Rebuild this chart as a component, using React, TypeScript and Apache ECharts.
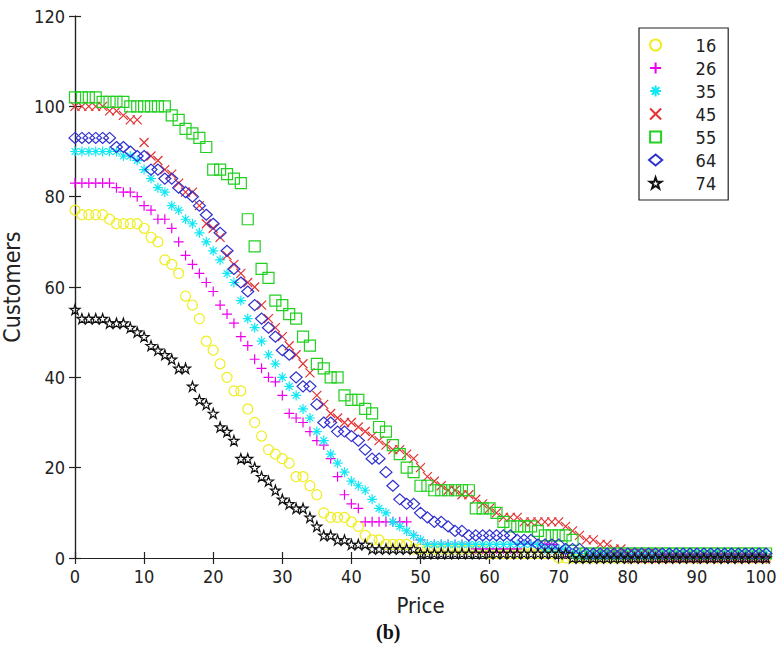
import React, { useEffect, useRef } from "react";
import * as echarts from "echarts";

// Price (x values)
const prices = [
  0, 1, 2, 3, 4, 5, 6, 7, 8, 9, 10, 11, 12, 13, 14, 15, 16, 17, 18, 19, 20,
  21, 22, 23, 24, 25, 26, 27, 28, 29, 30, 31, 32, 33, 34, 35, 36, 37, 38, 39, 40,
  41, 42, 43, 44, 45, 46, 47, 48, 49, 50, 51, 52, 53, 54, 55, 56, 57, 58, 59, 60,
  61, 62, 63, 64, 65, 66, 67, 68, 69, 70, 71, 72, 73, 74, 75, 76, 77, 78, 79, 80,
  81, 82, 83, 84, 85, 86, 87, 88, 89, 90, 91, 92, 93, 94, 95, 96, 97, 98, 99, 100,
];

const ages = ["16", "26", "35", "45", "55", "64", "74"];

const cust16 = [
  77, 76, 76, 76, 76, 75, 74, 74, 74, 74,
  73, 71, 70, 66, 65, 63, 58, 56, 53, 48,
  46, 43, 40, 37, 37, 33, 30, 27, 24, 23,
  22, 21, 18, 18, 16, 14, 10, 9, 9, 9,
  8, 7, 5, 4, 4, 3, 3, 3, 3, 2,
  2, 2, 2, 2, 2, 2, 2, 2, 2, 2,
  1, 1, 1, 1, 1, 1, 1, 1, 1, 1,
  0, 0, 0, 0, 0, 0, 0, 0, 0, 0,
  0, 0, 0, 0, 0, 0, 0, 0, 0, 0,
  0, 0, 0, 0, 0, 0, 0, 0, 0, 0,
  0,
];

const cust26 = [
  83, 83, 83, 83, 83, 83, 82, 81, 81, 80,
  78, 77, 75, 75, 73, 70, 67, 65, 63, 61,
  59, 56, 54, 52, 49, 47, 44, 42, 40, 39,
  36, 32, 31, 30, 28, 26, 25, 22, 18, 14,
  12, 11, 8, 8, 8, 8, 8, 8, 8, 5,
  4, 3, 3, 3, 3, 3, 3, 3, 2, 2,
  2, 2, 2, 2, 2, 3, 3, 3, 3, 3,
  2, 1, 1, 1, 1, 1, 1, 1, 1, 1,
  0, 0, 0, 0, 0, 0, 0, 0, 0, 0,
  0, 0, 0, 0, 0, 0, 0, 0, 0, 0,
  0,
];

const cust35 = [
  90, 90, 90, 90, 90, 90, 90, 89, 89, 88,
  86, 84, 82, 81, 78, 77, 75, 74, 72, 70,
  68, 66, 63, 61, 57, 53, 51, 48, 45, 43,
  40, 38, 36, 33, 31, 28, 26, 23, 21, 19,
  17, 16, 15, 13, 11, 10, 8, 7, 6, 5,
  4, 3, 3, 3, 3, 3, 3, 3, 3, 3,
  3, 3, 3, 3, 3, 3, 3, 3, 2, 2,
  2, 2, 1, 1, 1, 1, 1, 1, 1, 1,
  1, 1, 1, 1, 1, 1, 1, 1, 1, 1,
  1, 1, 1, 1, 1, 1, 1, 1, 1, 1,
  1,
];

const cust45 = [
  100, 100, 100, 100, 100, 99, 99, 98, 97, 97,
  92, 89, 88, 86, 85, 83, 81, 81, 78, 74,
  73, 71, 67, 65, 63, 61, 60, 56, 53, 51,
  49, 47, 45, 43, 41, 36, 34, 32, 31, 30,
  30, 29, 28, 27, 26, 25, 24, 24, 23, 22,
  20, 18, 17, 16, 15, 15, 14, 14, 13, 12,
  11, 10, 9, 9, 9, 8, 8, 8, 8, 8,
  8, 7, 6, 5, 4, 4, 3, 3, 2, 2,
  1, 1, 1, 1, 1, 0, 0, 0, 0, 0,
  0, 0, 0, 0, 0, 0, 0, 0, 0, 0,
  0,
];

const cust55 = [
  102, 102, 102, 102, 101, 101, 101, 101, 100, 100,
  100, 100, 100, 100, 98, 97, 95, 94, 93, 91,
  86, 86, 85, 84, 83, 75, 69, 64, 62, 57,
  56, 54, 53, 49, 47, 43, 42, 40, 40, 36,
  35, 35, 33, 32, 29, 28, 25, 23, 20, 19,
  16, 16, 15, 15, 15, 15, 15, 15, 11, 11,
  11, 10, 8, 7, 7, 7, 7, 6, 5, 5,
  5, 5, 4, 1, 1, 1, 1, 1, 1, 1,
  1, 1, 1, 1, 1, 1, 1, 1, 1, 1,
  1, 1, 1, 1, 1, 1, 1, 1, 1, 1,
  1,
];

const cust64 = [
  93, 93, 93, 93, 93, 93, 91, 91, 90, 89,
  89, 86, 86, 84, 84, 82, 81, 80, 78, 76,
  74, 72, 68, 64, 61, 59, 56, 53, 51, 49,
  46, 45, 40, 38, 38, 34, 30, 30, 28, 28,
  27, 26, 24, 22, 22, 19, 16, 13, 12, 12,
  10, 9, 8, 8, 7, 6, 6, 5, 5, 5,
  5, 5, 5, 5, 4, 4, 4, 3, 3, 3,
  3, 2, 2, 2, 1, 1, 1, 1, 1, 1,
  1, 1, 1, 1, 1, 1, 1, 1, 1, 1,
  1, 1, 1, 1, 1, 1, 1, 1, 1, 1,
  1,
];

const cust74 = [
  55, 53, 53, 53, 53, 52, 52, 52, 51, 50,
  49, 47, 46, 45, 44, 42, 42, 38, 35, 34,
  32, 29, 28, 26, 22, 22, 20, 18, 17, 15,
  13, 12, 11, 11, 9, 7, 5, 5, 4, 4,
  3, 3, 3, 2, 2, 2, 2, 2, 2, 2,
  1, 1, 1, 1, 1, 1, 1, 1, 1, 1,
  1, 1, 1, 1, 1, 1, 1, 1, 1, 1,
  1, 1, 0, 0, 0, 0, 0, 0, 0, 0,
  0, 0, 0, 0, 0, 0, 0, 0, 0, 0,
  0, 0, 0, 0, 0, 0, 0, 0, 0, 0,
  0,
];

const seriesValues = [cust16, cust26, cust35, cust45, cust55, cust64, cust74];
const seriesColors = ["#eeee22", "#ee00ee", "#11e8f4", "#e43232", "#22d022", "#3030d0", "#111111"];
const SYM_PLUS = "path://M5,0L5,10M0,5L10,5";
const SYM_X = "path://M0,0L10,10M10,0L0,10";
const SYM_AST = "path://M5,0L5,10M0,5L10,5M1.6,1.6L8.4,8.4M8.4,1.6L1.6,8.4";
const SYM_RECT = "path://M0,0L10,0L10,10L0,10Z";
const SYM_DIAMOND = "path://M6,0L12,5L6,10L0,5Z";
const SYM_STAR =
  "path://M50,0L61.8,35.3L98.9,35.3L68.9,57.1L80.3,92.7L50,70.9L19.7,92.7L31.1,57.1L1.1,35.3L38.2,35.3Z";
const seriesSymbols = ["circle", SYM_PLUS, SYM_AST, SYM_X, SYM_RECT, SYM_DIAMOND, SYM_STAR];
const seriesSizes = [10, 10, 10, 9, 11, [12, 11], 10];

const TICK_FONT = "'Liberation Sans Narrow', 'DejaVu Sans Condensed', sans-serif";

export default function App() {
  const ref = useRef<HTMLDivElement>(null);
  useEffect(() => {
    if (!ref.current) return;
    const chart = echarts.init(ref.current, null, { renderer: "svg" });
    const axisLine = { show: true, lineStyle: { color: "#222", width: 1.2 } };
    const tick = { show: true, inside: true, length: 6, lineStyle: { color: "#222", width: 1.2 } };
    chart.setOption({
      animation: false,
      backgroundColor: "#fff",
      grid: { left: 75, right: 11, top: 16, bottom: 101, containLabel: false, outerBoundsMode: "none" },
      legend: {
        orient: "vertical",
        left: 639,
        top: 28,
        padding: [8, 12, 8, 9],
        itemWidth: 70,
        itemHeight: 11,
        itemGap: 5,
        symbolKeepAspect: true,
        borderColor: "#222",
        borderWidth: 1.2,
        backgroundColor: "#fff",
        selectedMode: false,
        data: ages,
        textStyle: { fontFamily: TICK_FONT, fontSize: 18, color: "#222", lineHeight: 17 },
      },
      xAxis: [
        {
          type: "value",
          min: 0,
          max: 100,
          interval: 10,
          name: "Price",
          nameLocation: "middle",
          nameGap: 36,
          nameTextStyle: { fontFamily: TICK_FONT, fontSize: 22, color: "#222" },
          axisLine,
          axisTick: tick,
          axisLabel: {
            fontFamily: TICK_FONT,
            fontSize: 18,
            color: "#222",
            margin: 9,
            formatter: (v: number) => (v === 100 ? "{e|100}" : String(v)),
            rich: { e: { fontFamily: TICK_FONT, fontSize: 18, color: "#222", padding: [0, 10, 0, 0] } },
          },
          splitLine: { show: false },
        },
        {
          type: "value",
          position: "top",
          min: 0,
          max: 100,
          interval: 10,
          axisLine,
          axisTick: tick,
          axisLabel: { show: false },
          splitLine: { show: false },
        },
      ],
      yAxis: [
        {
          type: "value",
          min: 0,
          max: 120,
          interval: 20,
          name: "Customers",
          nameLocation: "middle",
          nameGap: 42,
          nameTextStyle: { fontFamily: TICK_FONT, fontSize: 23, color: "#222" },
          axisLine,
          axisTick: tick,
          axisLabel: { fontFamily: TICK_FONT, fontSize: 18, color: "#222", margin: 10 },
          splitLine: { show: false },
        },
        {
          type: "value",
          position: "right",
          min: 0,
          max: 120,
          interval: 20,
          axisLine,
          axisTick: tick,
          axisLabel: { show: false },
          splitLine: { show: false },
        },
      ],
      graphic: [
        {
          type: "text",
          left: 376,
          top: 622,
          style: {
            text: "(b)",
            fontFamily: "'Liberation Serif', 'Times New Roman', serif",
            fontWeight: "bold",
            fontSize: 20,
            fill: "#111",
          },
        },
      ],
      series: ages.map((age, k) => ({
        type: "scatter",
        name: age,
        xAxisIndex: 0,
        yAxisIndex: 0,
        clip: false,
        symbol: seriesSymbols[k],
        symbolSize: seriesSizes[k],
        itemStyle: {
          color: "transparent",
          borderColor: seriesColors[k],
          borderWidth: 1.2,
          opacity: 1,
        },
        emphasis: { disabled: true },
        data: prices.map((p, i) => [p, seriesValues[k][i]]),
      })),
    });
    return () => chart.dispose();
  }, []);
  return <div ref={ref} style={{ width: 777, height: 659, position: "absolute", left: 0, top: 0 }} />;
}
